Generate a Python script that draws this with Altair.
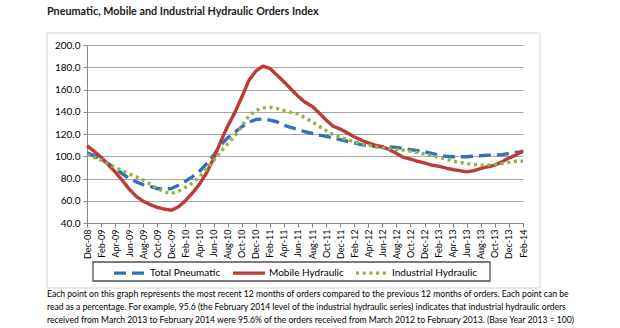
import altair as alt
import pandas as pd

months = ["Dec-08",
          "Jan-09", "Feb-09", "Mar-09", "Apr-09", "May-09", "Jun-09", "Jul-09", "Aug-09", "Sep-09", "Oct-09", "Nov-09", "Dec-09",
          "Jan-10", "Feb-10", "Mar-10", "Apr-10", "May-10", "Jun-10", "Jul-10", "Aug-10", "Sep-10", "Oct-10", "Nov-10", "Dec-10",
          "Jan-11", "Feb-11", "Mar-11", "Apr-11", "May-11", "Jun-11", "Jul-11", "Aug-11", "Sep-11", "Oct-11", "Nov-11", "Dec-11",
          "Jan-12", "Feb-12", "Mar-12", "Apr-12", "May-12", "Jun-12", "Jul-12", "Aug-12", "Sep-12", "Oct-12", "Nov-12", "Dec-12",
          "Jan-13", "Feb-13", "Mar-13", "Apr-13", "May-13", "Jun-13", "Jul-13", "Aug-13", "Sep-13", "Oct-13", "Nov-13", "Dec-13",
          "Jan-14", "Feb-14"]

total_pneumatic = [103, 100.5, 97.5, 93.5, 89, 84.5, 80, 77, 74.5, 73,
                   71, 70.5, 71, 74, 77.5, 81.5, 86.5, 93, 101, 110,
                   116.5, 121.5, 126.5, 130.5, 133, 133.5, 132.5, 131, 128, 126,
                   124, 122, 120.5, 119, 118, 116.5, 115, 113.5, 112, 110.5,
                   109.5, 109, 108.5, 108.5, 108, 107, 106, 105, 104, 102.5,
                   101, 100, 99.5, 99.5, 99.5, 100, 100.5, 101, 101, 101.5,
                   102.5, 103.5, 104]

mobile_hydraulic = [109.5, 104.5, 99, 92.5, 86, 78.5, 70.5, 64, 59.5, 56.5,
                    54, 52.5, 51.5, 54.5, 60, 67, 75, 85, 98, 113,
                    127, 139, 153, 168, 176.5, 181, 179, 173, 167, 160.5,
                    154, 148.5, 145, 139, 132.5, 127, 124.5, 121, 117.5, 114.5,
                    112, 110, 108.5, 106, 102.5, 99, 97.5, 95.5, 94, 92,
                    91, 89.5, 88, 87, 86, 87, 89, 90.5, 92, 95,
                    98.5, 101, 105]

industrial_hydraulic = [101.5, 99, 96.5, 93, 90, 87, 84, 81.5, 78.5, 75,
                        71, 68, 66.5, 68.5, 72, 76, 81.5, 88.5, 96, 104,
                        111, 118, 127, 136, 141, 143.5, 144, 143, 141, 139.5,
                        138, 134.5, 131, 127, 123, 119.5, 117, 115, 113, 111,
                        110, 108.5, 107.5, 107, 106, 105.5, 104.5, 103.5, 102, 100.5,
                        99, 97.5, 95.5, 94.5, 93.5, 92.5, 92, 92, 92.7, 93.5,
                        94.5, 95.5, 95.6]

series_names = ["Total Pneumatic", "Mobile Hydraulic", "Industrial Hydraulic"]
series_colors = ["#3570BD", "#BE3A34", "#8DB43E"]
series_dashes = [[12, 6], [1, 0], [3, 3.7]]
y_ticks = [40, 60, 80, 100, 120, 140, 160, 180, 200]

title_text = "Pneumatic, Mobile and Industrial Hydraulic Orders Index"
footnote_lines = [
    "Each point on this graph represents the most recent 12 months of orders compared to the previous 12 months of orders.  Each point can be",
    "read as a percentage.  For example, 95.6 (the February 2014 level of the industrial hydraulic series) indicates that industrial hydraulic orders",
    "received from March 2013 to February 2014 were 95.6% of the orders received from March 2012 to February 2013.  (Base Year 2013 = 100)",
]

rows = []
for name, vals in zip(series_names, [total_pneumatic, mobile_hydraulic, industrial_hydraulic]):
    for m, v in zip(months, vals):
        rows.append({"month": m, "series": name, "value": v})
df = pd.DataFrame(rows)

FONT = "Lato"
W, H = 436, 178
PL, PT = 87, 45

legend = alt.Legend(
    title=None, orient="none", legendX=25, legendY=210, direction="horizontal",
    symbolType="stroke", symbolSize=1024, symbolStrokeWidth=3.4,
    labelFont=FONT, labelFontSize=10, labelColor="#000000", labelOffset=2,
    columnPadding=5, padding=0,
)

frame = alt.Chart(pd.DataFrame({"k": [0]})).mark_rect(
    fillOpacity=0, stroke="#d4d4d4", strokeWidth=1
).encode(x=alt.value(-40), x2=alt.value(453), y=alt.value(-12), y2=alt.value(243))

legend_box = alt.Chart(pd.DataFrame({"k": [0]})).mark_rect(
    fillOpacity=0, stroke="#505050", strokeWidth=1.3
).encode(x=alt.value(6), x2=alt.value(403), y=alt.value(217), y2=alt.value(236))

lines = alt.Chart(df).mark_line(strokeWidth=3.4, strokeCap="butt", strokeJoin="round").encode(
    x=alt.X("month:O", sort=months, scale=alt.Scale(type="point", padding=0),
            axis=alt.Axis(values=months[::2], labelAngle=-90, title=None, labelOverlap=False,
                          labelFont=FONT, labelFontSize=9, labelColor="#000000", labelPadding=2,
                          domainColor="#868686", tickColor="#868686", tickSize=4, grid=False)),
    y=alt.Y("value:Q", scale=alt.Scale(domain=[40, 200], nice=False, zero=False),
            axis=alt.Axis(values=y_ticks, format=".1f", title=None,
                          labelFont=FONT, labelFontSize=10, labelColor="#000000", labelPadding=3,
                          domainColor="#868686", tickColor="#868686", tickSize=4,
                          grid=True, gridColor="#a6a6a6", gridWidth=1)),
    color=alt.Color("series:N", sort=series_names,
                    scale=alt.Scale(domain=series_names, range=series_colors), legend=legend),
    strokeDash=alt.StrokeDash("series:N", sort=series_names,
                              scale=alt.Scale(domain=series_names, range=series_dashes), legend=legend),
)

title = alt.Chart(pd.DataFrame({"t": [title_text]})).mark_text(
    align="left", baseline="middle", font=FONT, fontSize=10.8, fontWeight="bold", color="#1a1a1a"
).encode(text="t:N", x=alt.value(-40), y=alt.value(-33))

footnote = alt.Chart(pd.DataFrame({"t": ["\n".join(footnote_lines)]})).mark_text(
    align="left", baseline="top", font=FONT, fontSize=8.6, lineHeight=13, lineBreak="\n", color="#000000"
).encode(text="t:N", x=alt.value(-40), y=alt.value(245))

chart = alt.layer(frame, legend_box, lines, title, footnote).properties(
    width=W, height=H,
    padding={"left": PL, "top": PT, "right": 620 - PL - W, "bottom": 328 - PT - H},
    autosize="none",
).configure_view(strokeWidth=0)

chart.save("out.html", embed_options={"renderer": "svg", "actions": False})
